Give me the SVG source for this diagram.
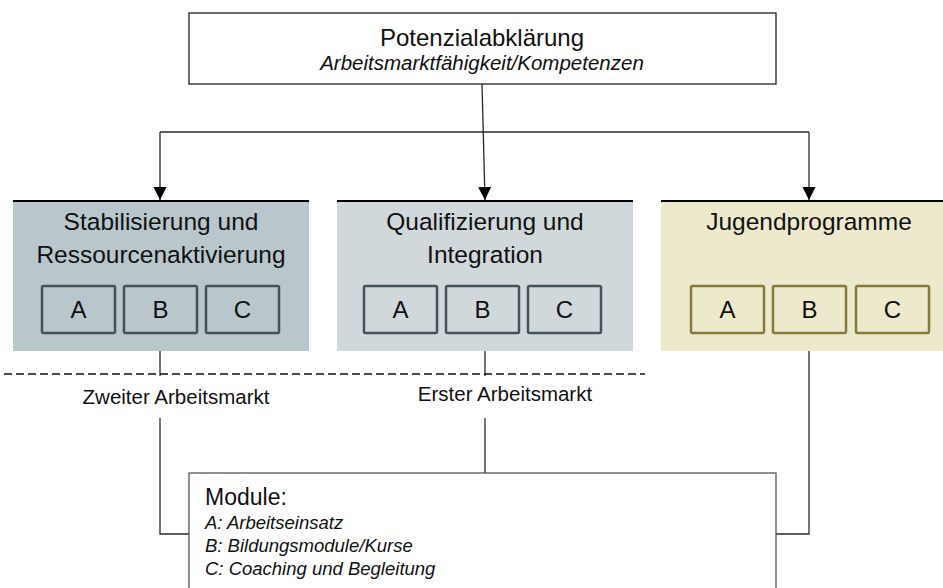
<svg xmlns="http://www.w3.org/2000/svg" width="943" height="588" viewBox="0 0 943 588">
<defs>
<style>
text{font-family:"Liberation Sans",Arial,sans-serif;fill:#111}
.ttl{font-size:24px;text-anchor:middle}
.sub{font-size:20.5px;font-style:italic;text-anchor:middle}
.bt{font-size:24.5px;text-anchor:middle}
.let{font-size:24px;text-anchor:middle}
.mk{font-size:20.5px;text-anchor:middle}
.modh{font-size:23px}
.modl{font-size:18.5px;font-style:italic}
.conn{fill:none;stroke:#2a2a2a;stroke-width:1.3}
.topb{stroke:#000;stroke-width:2.2}
.inS{fill:none;stroke:#44535a;stroke-width:2.5}
.inJ{fill:none;stroke:#867a3a;stroke-width:2.5}
</style>
<marker id="ah" markerUnits="userSpaceOnUse" markerWidth="14" markerHeight="14" viewBox="0 0 14 14" refX="13" refY="7" orient="auto">
<path d="M0,0.5 L13,7 L0,13.5 Z" fill="#000"/>
</marker>
</defs>

<g id="top">
<rect x="189" y="13" width="587" height="71" fill="#fff" stroke="#222" stroke-width="1.3"/>
<text class="ttl" x="482" y="46">Potenzialabklärung</text>
<text class="sub" x="482" y="70">Arbeitsmarktfähigkeit/Kompetenzen</text>
</g>

<g id="connectors">
<path class="conn" d="M482 84 L485 200" marker-end="url(#ah)"/>
<path class="conn" d="M160 132 H809"/>
<path class="conn" d="M160 132 V200" marker-end="url(#ah)"/>
<path class="conn" d="M809 132 V200" marker-end="url(#ah)"/>
<path class="conn" d="M160 351 V376"/>
<path class="conn" d="M160 418 V534 H189"/>
<path class="conn" d="M485 351 V376"/>
<path class="conn" d="M485 418 V473"/>
<path class="conn" d="M809 351 V534 H776"/>
<path d="M4 374 H645" fill="none" stroke="#111" stroke-width="1.3" stroke-dasharray="8 4"/>
</g>

<g id="stabilisierung">
<rect x="13" y="201" width="296" height="150" fill="#b9c6cc"/>
<line class="topb" x1="13" y1="201" x2="309" y2="201"/>
<text class="bt" x="161" y="230">Stabilisierung und</text>
<text class="bt" x="161" y="263">Ressourcenaktivierung</text>
<rect class="inS" x="42" y="286" width="73" height="47" rx="1.5"/>
<rect class="inS" x="124" y="286" width="73" height="47" rx="1.5"/>
<rect class="inS" x="206" y="286" width="73" height="47" rx="1.5"/>
<text class="let" x="78.5" y="318">A</text>
<text class="let" x="160.5" y="318">B</text>
<text class="let" x="242.5" y="318">C</text>
</g>

<g id="qualifizierung">
<rect x="337" y="201" width="296" height="150" fill="#d0d8dc"/>
<line class="topb" x1="337" y1="201" x2="633" y2="201"/>
<text class="bt" x="485" y="230">Qualifizierung und</text>
<text class="bt" x="485" y="263">Integration</text>
<rect class="inS" x="364" y="286" width="73" height="47" rx="1.5"/>
<rect class="inS" x="446" y="286" width="73" height="47" rx="1.5"/>
<rect class="inS" x="528" y="286" width="73" height="47" rx="1.5"/>
<text class="let" x="400.5" y="318">A</text>
<text class="let" x="482.5" y="318">B</text>
<text class="let" x="564.5" y="318">C</text>
</g>

<g id="jugendprogramme">
<rect x="661" y="201" width="282" height="150" fill="#ede9cd"/>
<line class="topb" x1="661" y1="201" x2="943" y2="201"/>
<text class="bt" x="809" y="230">Jugendprogramme</text>
<rect class="inJ" x="691" y="286" width="73" height="47" rx="1.5"/>
<rect class="inJ" x="773" y="286" width="73" height="47" rx="1.5"/>
<rect class="inJ" x="856" y="286" width="73" height="47" rx="1.5"/>
<text class="let" x="727.5" y="318">A</text>
<text class="let" x="809.5" y="318">B</text>
<text class="let" x="892.5" y="318">C</text>
</g>

<g id="labels">
<text class="mk" x="176" y="404">Zweiter Arbeitsmarkt</text>
<text class="mk" x="505" y="401">Erster Arbeitsmarkt</text>
</g>

<g id="module">
<rect x="189" y="473" width="587" height="130" fill="#fff" stroke="#555" stroke-width="1.3"/>
<text class="modh" x="205" y="505">Module:</text>
<text class="modl" x="205" y="529">A: Arbeitseinsatz</text>
<text class="modl" x="205" y="552">B: Bildungsmodule/Kurse</text>
<text class="modl" x="205" y="575">C: Coaching und Begleitung</text>
</g>
</svg>
